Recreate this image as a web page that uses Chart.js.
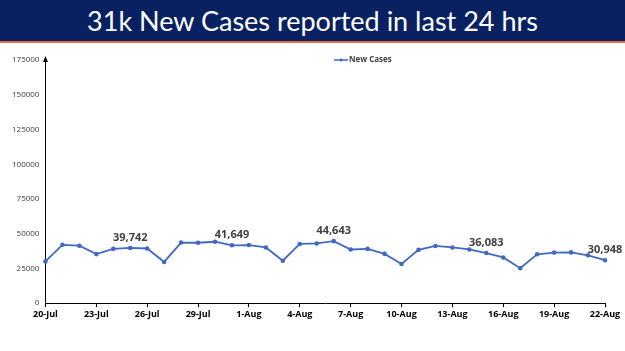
<!DOCTYPE html>
<html>
<head>
<meta charset="utf-8">
<script src="https://cdn.jsdelivr.net/npm/chart.js@4"></script>
<style>
  body { margin: 0; background: #fff; }
  #wrap { position: relative; width: 625px; height: 351px; }
  #banner {
    position: absolute; left: 0; top: 0; width: 625px; height: 41px;
    background: #0a2161; border-bottom: 2px solid #e07040;
    color: #fff; font-family: Lato, sans-serif; font-size: 27px;
    text-align: center; line-height: 41px; z-index: 2;
  }
  #myChart { position: absolute; left: 0; top: 0; }
</style>
</head>
<body>
<div id="wrap">
  <div id="banner">31k New Cases reported in last 24 hrs</div>
  <canvas id="myChart" width="625" height="351"></canvas>
</div>
<script>
const days = [
  '20-Jul', '21-Jul', '22-Jul', '23-Jul', '24-Jul', '25-Jul', '26-Jul', '27-Jul',
  '28-Jul', '29-Jul', '30-Jul', '31-Jul', '1-Aug', '2-Aug', '3-Aug', '4-Aug',
  '5-Aug', '6-Aug', '7-Aug', '8-Aug', '9-Aug', '10-Aug', '11-Aug', '12-Aug',
  '13-Aug', '14-Aug', '15-Aug', '16-Aug', '17-Aug', '18-Aug', '19-Aug', '20-Aug',
  '21-Aug', '22-Aug'
];
const newCases = [
  30093, 42015, 41383, 35342, 39097, 39742, 39361, 29689,
  43654, 43509, 44230, 41649, 41831, 40134, 30549, 42625,
  42982, 44643, 38628, 39070, 35499, 28204, 38353, 41195,
  40120, 38667, 36083, 32937, 25166, 35178, 36401, 36571,
  34457, 30948
];
// points that carry a value label
const labelledDays = ['25-Jul', '31-Jul', '6-Aug', '15-Aug', '22-Aug'];
const lineColor = '#4169c2';

const pointLabels = {
  id: 'pointLabels',
  afterDatasetsDraw(chart) {
    const ctx = chart.ctx;
    const meta = chart.getDatasetMeta(0);
    ctx.save();
    ctx.font = 'bold 11px "Open Sans", sans-serif';
    ctx.fillStyle = '#404040';
    ctx.textAlign = 'center';
    ctx.textBaseline = 'bottom';
    labelledDays.forEach(d => {
      const i = days.indexOf(d);
      const pt = meta.data[i];
      ctx.fillText(newCases[i].toLocaleString('en-US'), pt.x, pt.y - 5);
    });
    ctx.restore();
  }
};

// y axis arrow head + legend sitting at the top of the plot
const extras = {
  id: 'extras',
  afterDraw(chart) {
    const { ctx, chartArea } = chart;
    const x = chartArea.left;
    const y = chartArea.top;
    ctx.save();
    ctx.fillStyle = '#000';
    ctx.beginPath();
    ctx.moveTo(x, y - 4);
    ctx.lineTo(x - 2.5, y + 2);
    ctx.lineTo(x + 2.5, y + 2);
    ctx.closePath();
    ctx.fill();

    const lx = 334, ly = 60;
    ctx.strokeStyle = lineColor;
    ctx.lineWidth = 1.5;
    ctx.beginPath();
    ctx.moveTo(lx, ly);
    ctx.lineTo(lx + 14, ly);
    ctx.stroke();
    ctx.fillStyle = lineColor;
    ctx.beginPath();
    ctx.arc(lx + 7, ly, 1.5, 0, Math.PI * 2);
    ctx.fill();
    ctx.font = 'bold 8px "Open Sans", sans-serif';
    ctx.fillStyle = '#404040';
    ctx.textAlign = 'left';
    ctx.textBaseline = 'middle';
    ctx.fillText(chart.data.datasets[0].label, lx + 15, ly);
    ctx.restore();
  }
};

const ctx = document.getElementById('myChart').getContext('2d');
new Chart(ctx, {
  type: 'line',
  data: {
    labels: days,
    datasets: [{
      label: 'New Cases',
      data: newCases,
      borderColor: lineColor,
      backgroundColor: lineColor,
      borderWidth: 1.8,
      pointRadius: 1.4,
      pointHoverRadius: 1.4,
      tension: 0,
      fill: false
    }]
  },
  options: {
    responsive: false,
    animation: false,
    layout: { padding: { top: 60, right: 20, bottom: 29, left: 6 } },
    plugins: {
      legend: { display: false },
      tooltip: { enabled: false }
    },
    scales: {
      x: {
        offset: false,
        grid: {
          drawOnChartArea: false,
          drawTicks: true,
          tickLength: 4,
          color: c => (c.index % 3 === 0 ? '#000' : 'rgba(0,0,0,0)')
        },
        border: { display: true, color: '#000', width: 1 },
        ticks: {
          autoSkip: false,
          maxRotation: 0,
          color: '#000',
          padding: 2,
          font: { family: '"Open Sans", sans-serif', size: 9, weight: 'bold' },
          callback: function (v, i) { return i % 3 === 0 ? days[i] : ''; }
        }
      },
      y: {
        min: 0,
        max: 175000,
        grid: { display: false, drawTicks: false },
        border: { display: true, color: '#000', width: 1 },
        ticks: {
          stepSize: 25000,
          color: '#404040',
          padding: 6,
          font: { family: '"Open Sans", sans-serif', size: 8 },
          callback: v => String(v)
        }
      }
    }
  },
  plugins: [pointLabels, extras]
});
</script>
</body>
</html>
